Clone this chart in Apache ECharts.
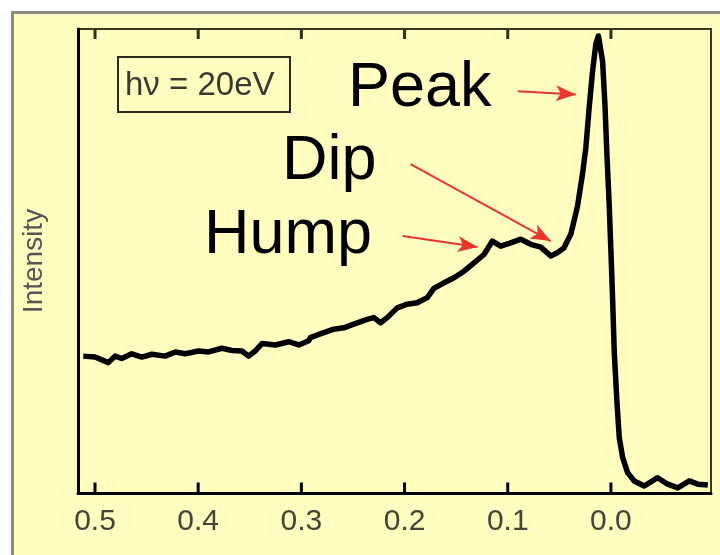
<!DOCTYPE html>
<html>
<head>
<meta charset="utf-8">
<title>Intensity spectrum</title>
<script src="https://cdn.jsdelivr.net/npm/echarts@6/dist/echarts.min.js"></script>
<style>
    html, body {margin: 0; padding: 0; background: #fff;}
    #chart {width: 720px; height: 555px;}
</style>
</head>
<body>
<div id="chart"></div>
<script>
// binding energy (eV)
var energy = [
    0.5114, 0.5000, 0.4871, 0.4806, 0.4741, 0.4644, 0.4546, 0.4449, 0.4320, 0.4223,
    0.4126, 0.3997, 0.3900, 0.3770, 0.3673, 0.3576, 0.3512, 0.3447, 0.3382, 0.3252,
    0.3123, 0.3026, 0.2929, 0.2913, 0.2816, 0.2686, 0.2589, 0.2492, 0.2362, 0.2298,
    0.2233, 0.2168, 0.2071, 0.1974, 0.1877, 0.1780, 0.1716, 0.1618, 0.1521, 0.1424,
    0.1327, 0.1230, 0.1149, 0.1068, 0.0971, 0.0874, 0.0777, 0.0680, 0.0583, 0.0524,
    0.0456, 0.0388, 0.0323, 0.0275, 0.0243, 0.0211, 0.0178, 0.0146, 0.0121, 0.0081,
    0.0058, 0.0039, 0.0017, 0.0000, -0.0017, -0.0032, -0.0058, -0.0081, -0.0114, -0.0162,
    -0.0226, -0.0323, -0.0453, -0.0550, -0.0648, -0.0760, -0.0842, -0.0939
];
var intensity = [
    29.5, 29.3, 28.1, 29.5, 29.0, 30.0, 29.3, 29.9, 29.5, 30.4,
    30.0, 30.6, 30.4, 31.2, 30.7, 30.6, 29.5, 30.6, 32.2, 31.9,
    32.6, 31.9, 32.8, 33.5, 34.3, 35.3, 35.6, 36.4, 37.4, 37.8,
    36.7, 37.8, 39.9, 40.7, 41.0, 42.1, 44.1, 45.3, 46.4, 47.8,
    49.6, 51.4, 54.3, 53.2, 53.9, 54.7, 53.6, 53.0, 51.1, 51.7,
    52.8, 55.8, 61.9, 68.8, 74.4, 83.0, 90.9, 96.8, 98.5, 93.1,
    83.8, 73.1, 62.3, 52.2, 41.4, 30.6, 19.8, 11.9, 7.6, 4.4,
    2.6, 1.5, 3.3, 1.9, 1.1, 2.6, 1.9, 1.7
];
var tickValues = [0.5, 0.4, 0.3, 0.2, 0.1, 0.0];

// annotation arrows: [fromEnergy, fromIntensity, toEnergy, toIntensity]
var arrowPeak = [0.0903, 86.6, 0.0340, 85.9];
var arrowDip = [0.1942, 70.9, 0.0583, 54.3];
var arrowHump = [0.2019, 55.4, 0.1291, 53.0];

var curve = energy.map(function (e, i) {
    return [e, intensity[i]];
});

var bg = '#FFFEC0';
var font = '"Liberation Sans", Arial, sans-serif';
var xMin = -0.097, xMax = 0.5165;
var yMin = 0, yMax = 100;

function arrow(a) {
    return [{coord: [a[0], a[1]]}, {coord: [a[2], a[3]]}];
}

var myChart = echarts.init(document.getElementById('chart'), null, {renderer: 'canvas'});

var option = {
    animation: false,
    backgroundColor: bg,
    grid: {
        left: 78, top: 29, right: 9, bottom: 62,
        show: true,
        borderColor: '#3a3a20',
        borderWidth: 2
    },
    graphic: [
        // white page margin and grey frame line round the yellow panel
        {type: 'rect', shape: {x: 0, y: 0, width: 720, height: 11}, style: {fill: '#fff'}},
        {type: 'rect', shape: {x: 0, y: 0, width: 11, height: 555}, style: {fill: '#fff'}},
        {type: 'polyline', shape: {points: [[12.5, 555], [12.5, 12.5], [720, 12.5]]}, style: {stroke: '#8c8c80', lineWidth: 3, fill: 'none'}},
        {
            type: 'rect',
            shape: {x: 118, y: 57, width: 172, height: 55},
            style: {fill: 'none', stroke: '#2a2a1a', lineWidth: 2}
        },
        {
            type: 'text', x: 125, y: 86,
            style: {text: 'hν = 20eV', font: '33px ' + font, fill: '#3a3a30', verticalAlign: 'middle'}
        },
        {
            type: 'text', x: 348, y: 89,
            style: {text: 'Peak', font: '63px ' + font, fill: '#000', verticalAlign: 'middle'}
        },
        {
            type: 'text', x: 282, y: 162,
            style: {text: 'Dip', font: '63px ' + font, fill: '#000', verticalAlign: 'middle'}
        },
        {
            type: 'text', x: 204, y: 236,
            style: {text: 'Hump', font: '63px ' + font, fill: '#000', verticalAlign: 'middle'}
        }
    ],
    xAxis: {
        type: 'value',
        inverse: true,
        min: xMin,
        max: xMax,
        axisLine: {show: true, onZero: false, lineStyle: {color: '#000', width: 3}},
        axisTick: {show: false},
        axisLabel: {
            customValues: tickValues,
            margin: 14,
            color: '#444436',
            fontFamily: font,
            fontSize: 30,
            formatter: function (v) {
                return Math.abs(v).toFixed(1);
            }
        },
        splitLine: {show: false}
    },
    yAxis: {
        type: 'value',
        min: yMin,
        max: yMax,
        name: 'Intensity',
        nameLocation: 'middle',
        nameRotate: 90,
        nameGap: 30,
        nameTextStyle: {color: '#555', fontFamily: font, fontSize: 28},
        axisLine: {show: true, onZero: false, lineStyle: {color: '#000', width: 3}},
        axisTick: {show: false},
        axisLabel: {show: false},
        splitLine: {show: false}
    },
    series: [
        {
            type: 'line',
            data: curve,
            showSymbol: false,
            lineStyle: {color: '#000', width: 5.5, join: 'round'},
            markLine: {
                silent: true,
                symbol: ['none', 'arrow'],
                symbolSize: [12, 20],
                label: {show: false},
                lineStyle: {color: '#E8372C', width: 2, type: 'solid'},
                data: [arrow(arrowPeak), arrow(arrowDip), arrow(arrowHump)]
            }
        },
        {
            // inward ticks on the bottom edge
            type: 'scatter',
            silent: true,
            clip: false,
            z: 10,
            symbol: 'rect',
            symbolSize: [3, 11],
            symbolOffset: [0, -5],
            itemStyle: {color: '#000', opacity: 1},
            data: tickValues.map(function (v) { return [v, yMin]; })
        },
        {
            // inward ticks on the top edge
            type: 'scatter',
            silent: true,
            clip: false,
            z: 10,
            symbol: 'rect',
            symbolSize: [3, 10],
            symbolOffset: [0, 5],
            itemStyle: {color: '#2e2e18', opacity: 1},
            data: tickValues.map(function (v) { return [v, yMax]; })
        }
    ]
};

myChart.setOption(option);
</script>
</body>
</html>
